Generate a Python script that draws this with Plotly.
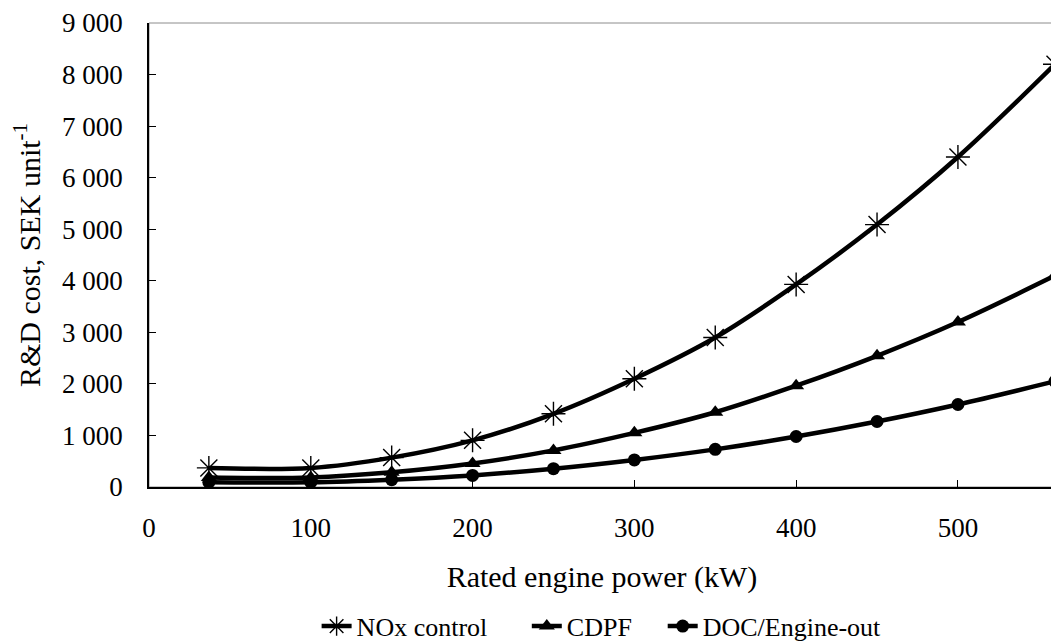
import plotly.graph_objects as go

power_kw = [37, 100, 150, 200, 250, 300, 350, 400, 450, 500, 560]
nox_control = [370, 370, 570, 905, 1420, 2100, 2900, 3930, 5090, 6400, 8200]
cdpf = [185, 185, 285, 455, 710, 1050, 1450, 1965, 2545, 3200, 4100]
doc_engine_out = [92, 92, 142, 225, 355, 525, 730, 980, 1270, 1600, 2050]

FONT = "Liberation Serif, Times New Roman, serif"
TICK_FS = 27
TITLE_FS = 30
LEGEND_FS = 26

fig = go.Figure()
series = [
    ("NOx control", nox_control, dict(symbol="asterisk-open", size=20, line=dict(width=1.4, color="black")), "legend"),
    ("CDPF", cdpf, dict(symbol="triangle-up", size=14, color="black"), "legend2"),
    ("DOC/Engine-out", doc_engine_out, dict(symbol="circle", size=13, color="black"), "legend3"),
]
for name, ys, marker, leg in series:
    fig.add_trace(go.Scatter(
        x=power_kw, y=ys, name=name, mode="lines+markers",
        line=dict(color="black", width=4.5, shape="spline", smoothing=1.0),
        marker=marker, cliponaxis=False, legend=leg,
    ))

def legend_at(x):
    return dict(orientation="h", x=x, xanchor="left", y=-0.30, yanchor="middle",
                font=dict(family=FONT, size=LEGEND_FS, color="black"), itemwidth=30,
                bgcolor="rgba(0,0,0,0)")

# page body has an 8px margin, so the figure is 8px smaller than the window
fig.update_layout(
    width=1051, height=634,
    paper_bgcolor="white", plot_bgcolor="white",
    margin=dict(l=141, r=4, t=15, b=155, autoexpand=False),
    font=dict(family=FONT, size=TICK_FS, color="black"),
    separators=". ",
    showlegend=True,
    legend=legend_at(0.185),
    legend2=legend_at(0.417),
    legend3=legend_at(0.567),
    shapes=[dict(type="rect", xref="paper", yref="paper", x0=0, y0=0, x1=1, y1=1,
                 line=dict(color="#8c8c8c", width=1), layer="below")],
)
fig.update_xaxes(
    range=[0, 560], tickvals=[0, 100, 200, 300, 400, 500], automargin=False,
    showgrid=False, zeroline=False, showline=True, linecolor="black", linewidth=1.5,
    ticks="inside", ticklen=7, tickcolor="black", ticklabelstandoff=16,
    tickfont=dict(family=FONT, size=TICK_FS, color="black"),
    title=dict(text="Rated engine power (kW)", standoff=24, font=dict(family=FONT, size=TITLE_FS, color="black")),
)
fig.update_yaxes(
    range=[0, 9000], dtick=1000, tickformat=",d", automargin=False,
    showgrid=False, zeroline=False, showline=True, linecolor="black", linewidth=1.5,
    ticks="inside", ticklen=7, tickcolor="black", ticklabelstandoff=19,
    tickfont=dict(family=FONT, size=TICK_FS, color="black"),
    title=dict(text="R&D cost, SEK unit<sup>-1</sup>", standoff=18, font=dict(family=FONT, size=TITLE_FS, color="black")),
)
fig.write_html("out.html")
